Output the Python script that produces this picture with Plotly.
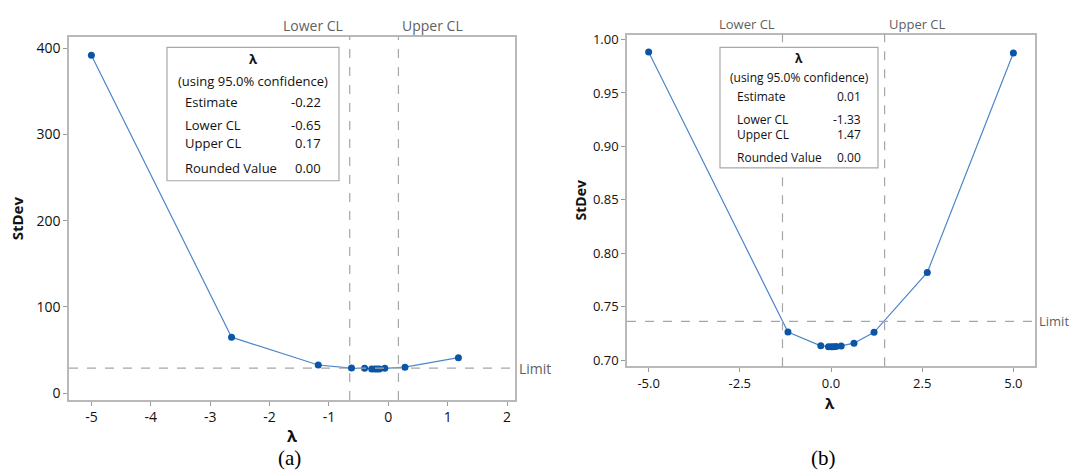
import plotly.graph_objects as go

# ---- data: Box-Cox search, panel (a) ----
lam_a = [-5.0, -2.64, -1.18, -0.62, -0.40, -0.28, -0.23, -0.19, -0.15, -0.06, 0.28, 1.18]
sd_a = [392.0, 65.0, 32.7, 29.1, 28.9, 28.2, 28.0, 28.0, 28.1, 28.8, 30.2, 41.2]
limit_a = 29.2
ci_a = {"Estimate": "-0.22", "Lower CL": "-0.65", "Upper CL": "0.17", "Rounded Value": "0.00"}
lcl_a, ucl_a = -0.65, 0.17

# ---- data: Box-Cox search, panel (b) ----
lam_b = [-5.0, -1.18, -0.28, -0.07, 0.01, 0.07, 0.14, 0.28, 0.63, 1.18, 2.64, 5.0]
sd_b = [0.9883, 0.7263, 0.7133, 0.7125, 0.7124, 0.7124, 0.7126, 0.7132, 0.7158, 0.7260, 0.7820, 0.9874]
limit_b = 0.7362
ci_b = {"Estimate": "0.01", "Lower CL": "-1.33", "Upper CL": "1.47", "Rounded Value": "0.00"}
lcl_b, ucl_b = -1.33, 1.47

xticks_a = [-5, -4, -3, -2, -1, 0, 1, 2]
yticks_a = [0, 100, 200, 300, 400]
xticks_b = [-5.0, -2.5, 0.0, 2.5, 5.0]
yticks_b = [0.70, 0.75, 0.80, 0.85, 0.90, 0.95, 1.00]

W, H = 1070, 475
FONT = "Open Sans"
LINE_CLR = "#4d86c8"
MARK_CLR = "#0b55a6"
GRID_GRAY = "#a6a6a6"
TXT = "#111111"


def px(x):
    return x / W


def py(y):
    return 1 - y / H


def labels(vals, fmt):
    # plain hyphen-minus for negative tick labels
    return [format(v, fmt) for v in vals]


fig = go.Figure()
fig.add_trace(go.Scatter(x=lam_a, y=sd_a, mode="lines+markers", xaxis="x", yaxis="y",
                         line=dict(color=LINE_CLR, width=1.2),
                         marker=dict(color=MARK_CLR, size=7), showlegend=False))
fig.add_trace(go.Scatter(x=lam_b, y=sd_b, mode="lines+markers", xaxis="x2", yaxis="y2",
                         line=dict(color=LINE_CLR, width=1.2),
                         marker=dict(color=MARK_CLR, size=7), showlegend=False))


def axis_style(size):
    return dict(showline=True, mirror=True, linecolor="#b9b9b9", linewidth=1.5,
                showgrid=False, zeroline=False, ticks="outside", ticklen=4,
                tickcolor="#9a9a9a", tickfont=dict(family=FONT, size=size, color=TXT))


fig.update_layout(
    width=W, height=H,
    margin=dict(l=0, r=0, t=0, b=0),
    paper_bgcolor="white", plot_bgcolor="white",
    xaxis=dict(domain=[px(69), px(515)], range=[-5.377, 2.133], tickvals=xticks_a,
               ticktext=labels(xticks_a, "d"), anchor="y", **axis_style(14)),
    yaxis=dict(domain=[py(401), py(33)], range=[-7.8, 413.6], tickvals=yticks_a,
               ticktext=labels(yticks_a, "d"), anchor="x", **axis_style(14)),
    xaxis2=dict(domain=[px(627), px(1035)], range=[-5.593, 5.593], tickvals=xticks_b,
                ticktext=labels(xticks_b, ".1f"), anchor="y2", **axis_style(13)),
    yaxis2=dict(domain=[py(367), py(31)], range=[0.6941, 1.0046], tickvals=yticks_b,
                ticktext=labels(yticks_b, ".2f"), anchor="x2", **axis_style(13)),
)

shapes = []
annotations = []


def panel(xr, yr, lcl, ucl, limit, ci, box, label_x, val_x, rows_y, title_y, sub_y,
          ylab_x, xlab_xy, cap_xy, cap, fs):
    dash = dict(color=GRID_GRAY, width=1.2, dash="dash")
    for v in (lcl, ucl):
        shapes.append(dict(type="line", xref=xr, yref=yr + " domain", x0=v, x1=v,
                           y0=0, y1=1, line=dash))
    shapes.append(dict(type="line", xref=xr + " domain", yref=yr, x0=0, x1=1,
                       y0=limit, y1=limit, line=dash))
    lab_font = dict(family=FONT, size=fs + 1, color="#5f5f5f")
    annotations.append(dict(text="Lower CL", xref=xr, yref=yr + " domain", x=lcl, y=1,
                            xanchor="right", yanchor="bottom", xshift=-5, yshift=0,
                            showarrow=False, font=lab_font))
    annotations.append(dict(text="Upper CL", xref=xr, yref=yr + " domain", x=ucl, y=1,
                            xanchor="left", yanchor="bottom", xshift=2, yshift=0,
                            showarrow=False, font=lab_font))
    annotations.append(dict(text="Limit", xref=xr + " domain", yref=yr, x=1, y=limit,
                            xanchor="left", yanchor="middle", xshift=2,
                            showarrow=False, font=lab_font))
    # results box
    x0, x1, y0, y1 = box
    shapes.append(dict(type="rect", xref="paper", yref="paper", x0=px(x0), x1=px(x1),
                       y0=py(y1), y1=py(y0), line=dict(color="#a8a8a8", width=1.2),
                       fillcolor="white"))
    box_font = dict(family=FONT, size=fs, color=TXT)
    cx = (x0 + x1) / 2
    annotations.append(dict(text="<b>λ</b>", xref="paper", yref="paper", x=px(cx),
                            y=py(title_y), xanchor="center", yanchor="middle",
                            showarrow=False, font=box_font))
    annotations.append(dict(text="(using 95.0% confidence)", xref="paper", yref="paper",
                            x=px(cx), y=py(sub_y), xanchor="center", yanchor="middle",
                            showarrow=False, font=box_font))
    for (name, val), yy in zip(ci.items(), rows_y):
        annotations.append(dict(text=name, xref="paper", yref="paper", x=px(label_x),
                                y=py(yy), xanchor="left", yanchor="middle",
                                showarrow=False, font=box_font))
        annotations.append(dict(text=val, xref="paper", yref="paper", x=px(val_x),
                                y=py(yy), xanchor="right", yanchor="middle",
                                showarrow=False, font=box_font))
    # axis titles and caption
    dom = fig.layout[yr.replace("y", "yaxis")].domain
    annotations.append(dict(text="<b>StDev</b>", xref="paper", yref="paper", x=px(ylab_x),
                            y=(dom[0] + dom[1]) / 2,
                            textangle=-90, xanchor="center", yanchor="middle",
                            showarrow=False, font=dict(family=FONT, size=fs + 2, color=TXT)))
    annotations.append(dict(text="<b>λ</b>", xref="paper", yref="paper", x=px(xlab_xy[0]),
                            y=py(xlab_xy[1]), xanchor="center", yanchor="middle",
                            showarrow=False, font=dict(family=FONT, size=fs + 3, color=TXT)))
    annotations.append(dict(text=cap, xref="paper", yref="paper", x=px(cap_xy[0]),
                            y=py(cap_xy[1]), xanchor="center", yanchor="middle",
                            showarrow=False,
                            font=dict(family="Liberation Serif", size=21, color="black")))


panel("x", "y", lcl_a, ucl_a, limit_a, ci_a, (167, 339, 44, 179), 183, 322.5,
      [99, 123, 141, 166], 56, 77.5, 17, (292, 438), (289, 460), "(a)", 13)
panel("x2", "y2", lcl_b, ucl_b, limit_b, ci_b, (720, 878, 44, 166), 735, 863,
      [93.5, 116.5, 132, 155.5], 55, 74.5, 580, (830, 404), (823, 460), "(b)", 12)

fig.update_layout(shapes=shapes, annotations=annotations)
fig.write_html("out.html")
